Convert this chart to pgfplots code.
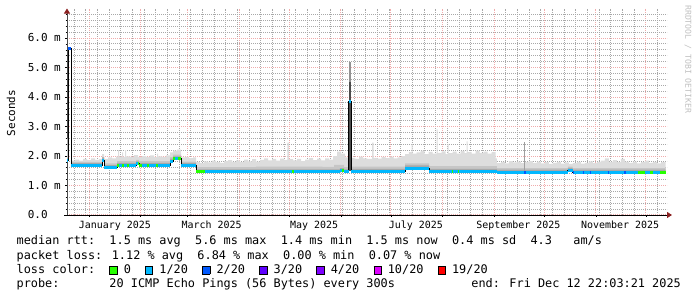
\documentclass[border=0pt]{standalone}
\usepackage{fontspec}
\setmainfont{DejaVu Sans Mono}
\setmonofont{DejaVu Sans Mono}
\usepackage{pgfplots}
\usepackage{pgfplotstable}
\pgfplotsset{compat=1.18}
\usepgfplotslibrary{fillbetween}
\usetikzlibrary{arrows.meta}
\definecolor{gridred}{HTML}{F0ACAC}
\definecolor{gridgray}{HTML}{A8A8A8}
\definecolor{arrowred}{HTML}{8B2020}
\definecolor{smokeL}{HTML}{DDDDDD}
\definecolor{smokeM}{HTML}{C6C6C6}
\definecolor{smokeD}{HTML}{A8A8A8}
\definecolor{loss0}{HTML}{26FF00}
\definecolor{loss1}{HTML}{00B8FF}
\definecolor{loss2}{HTML}{0059FF}
\definecolor{loss3}{HTML}{5E00FF}
\definecolor{loss4}{HTML}{7E00FF}
\definecolor{loss10}{HTML}{DD00FF}
\definecolor{loss19}{HTML}{FF0000}
\definecolor{tag}{HTML}{C0C0C0}

% median rtt (ms), day 0 = 1 Jan 2025
\pgfplotstableread{
x y
-13.2 1.84
-12.4 5.65
-10.6 1.67
7.8 1.86
9.0 1.60
16.8 1.68
28.2 1.73
30.0 1.68
48.6 1.82
50.4 1.90
55.2 1.68
64.2 1.46
150.5 1.50
153.0 1.46
155.8 3.84
157.4 1.47
189.5 1.59
203.9 1.47
244.6 1.45
287.2 1.51
290.0 1.45
345.8 1.45
}\tMed

% dark smoke band (upper edge)
\pgfplotstableread{
x y
-13.2 1.93
-12.4 5.65
-10.6 1.76
7.8 1.95
9.0 1.69
16.8 1.77
28.2 1.82
30.0 1.77
48.6 1.91
50.4 1.99
55.2 1.77
64.2 1.55
150.5 1.59
153.0 1.55
155.8 3.84
157.4 1.56
189.5 1.68
203.9 1.56
244.6 1.54
287.2 1.60
290.0 1.54
345.8 1.54
}\tD

% mid smoke band (upper edge)
\pgfplotstableread{
x y
-13.2 2.20
-12.4 5.65
-10.6 1.80
7.8 1.96
9.0 1.75
16.8 1.83
28.2 1.87
30.0 1.83
48.6 1.96
50.4 2.05
55.2 1.81
64.2 1.62
100.0 1.64
140.0 1.63
147.0 1.70
153.0 1.62
155.8 3.84
157.4 1.64
189.5 1.75
203.9 1.66
244.6 1.59
287.2 1.64
290.0 1.59
345.8 1.59
}\tM

% light smoke (max envelope)
\pgfplotstableread{
x y
-13.2 2.60
-12.8 1.95
-12.4 5.65
-10.6 1.84
-8.4 1.88
-6.0 1.84
-3.6 1.90
-1.2 1.86
1.2 1.92
3.6 1.87
6.0 1.90
7.8 2.06
9.0 1.90
11.4 1.95
13.8 1.92
16.2 1.98
17.4 2.20
18.0 1.98
19.8 2.12
20.4 1.97
21.6 2.20
22.2 1.99
24.6 1.97
27.0 2.03
29.4 1.96
31.8 2.00
34.2 1.97
36.6 2.02
39.0 1.96
40.8 2.08
41.4 1.99
43.8 1.97
46.2 2.02
48.6 2.12
50.4 2.18
52.8 2.22
55.2 1.95
57.6 1.97
60.0 1.93
62.4 1.95
64.2 1.80
66.6 1.76
69.0 1.82
71.4 1.78
73.8 1.84
76.2 1.79
78.6 1.77
81.0 1.83
83.4 1.86
85.8 1.80
88.2 1.85
90.6 1.79
93.0 1.88
95.4 1.82
97.8 1.89
100.2 1.81
102.6 1.87
105.0 1.92
107.4 1.85
109.8 1.90
112.2 1.84
114.6 1.91
117.0 1.87
119.0 2.45
119.8 1.89
122.4 1.85
124.8 1.90
127.2 1.83
129.6 1.88
132.0 1.93
134.4 1.86
136.8 1.91
139.2 1.85
141.6 1.92
144.0 1.88
146.4 2.00
148.8 2.15
151.2 2.08
153.6 1.95
155.8 3.84
157.4 1.94
159.6 1.90
162.0 1.98
164.4 1.92
166.8 1.90
169.8 2.45
170.6 1.94
173.0 1.91
175.4 1.97
177.8 1.93
180.2 1.98
182.6 1.92
185.0 1.95
187.4 2.00
189.5 2.06
191.8 2.13
193.4 2.40
194.0 2.08
196.4 2.12
198.8 2.18
201.2 2.06
203.6 2.14
206.0 2.08
208.4 2.90
209.0 2.11
211.4 2.16
213.8 2.06
215.0 2.40
215.6 2.10
218.0 2.15
220.4 2.08
222.8 2.17
225.2 2.10
226.4 2.50
227.0 2.13
229.4 2.08
231.8 2.18
234.2 2.11
236.6 2.15
239.0 2.08
241.4 2.13
243.8 1.92
244.6 1.76
247.0 1.80
249.4 1.75
251.8 1.83
254.2 1.78
256.6 1.81
259.0 1.76
261.4 1.80
263.8 1.83
266.2 1.77
268.6 1.81
271.0 1.75
273.4 1.79
275.8 1.73
278.2 1.77
280.6 1.80
283.0 1.74
285.4 1.78
287.8 1.73
290.2 1.76
292.6 1.80
295.0 1.74
297.4 1.77
299.8 1.82
302.2 1.76
304.6 1.80
307.0 1.84
309.4 1.92
311.8 1.80
314.2 1.86
316.6 1.79
319.0 1.90
321.4 1.81
323.8 1.77
326.2 1.81
328.6 1.75
331.0 1.79
333.4 1.84
335.8 1.77
338.2 1.80
340.6 1.75
343.0 1.79
345.8 1.79
}\tU

\newcommand{\lb}[1]{\makebox[0.602em][l]{\raisebox{-1bp}{\setlength{\fboxsep}{0pt}\setlength{\fboxrule}{0.9bp}\fcolorbox{black}{#1}{\rule{0pt}{7.4bp}\rule{6.4bp}{0pt}}}}}

\begin{document}
\begin{tikzpicture}
\begin{axis}[
  at={(67bp,82bp)}, anchor=south west,
  scale only axis, width=600bp, height=206.5bp,
  xmin=-13.2, xmax=346.6, ymin=0, ymax=7,
  axis x line=bottom, axis y line=left,
  x axis line style={black, line width=0.9bp, shorten <=-3bp, shorten >=-5bp, -{Triangle[length=5bp,width=6bp,color=arrowred]}},
  y axis line style={black!70, line width=0.9bp, -{Triangle[length=5bp,width=6bp,color=arrowred]}},
  xtick={0,31,59,90,120,151,181,212,243,273,304,334},
  xticklabels={},
  minor xtick={-9,-2,...,345},
  extra x ticks={15.5,73.5,135,196,257.5,318.5},
  extra x tick labels={January 2025,March 2025,May 2025,July 2025,September 2025,November 2025},
  extra x tick style={grid=none, major tick length=0pt},
  ytick={0,1,2,3,4,5,6},
  yticklabels={0.0\phantom{~m},1.0 m,2.0 m,3.0 m,4.0 m,5.0 m,6.0 m},
  minor ytick={0.2,0.4,0.6,0.8,1.2,1.4,1.6,1.8,2.2,2.4,2.6,2.8,3.2,3.4,3.6,3.8,4.2,4.4,4.6,4.8,5.2,5.4,5.6,5.8,6.2,6.4,6.6,6.8},
  grid=both,
  major grid style={draw=gridred, line width=1bp, dash pattern=on 1bp off 1bp},
  minor grid style={draw=gridgray, line width=1bp, dash pattern=on 1bp off 1bp},
  tick align=outside,
  major tick length=2bp, minor tick length=1.5bp,
  tick style={black, line width=0.6bp},
  xticklabel style={font=\fontsize{10}{12}\selectfont, inner sep=0pt, yshift=-6bp},
  yticklabel style={font=\fontsize{11}{13}\selectfont, inner sep=0pt, xshift=-4bp},
  unbounded coords=jump,
  clip=true,
]
\addplot[name path=Med, draw=none, const plot, forget plot] table {\tMed};
\addplot[name path=U, draw=none, const plot, forget plot] table {\tU};
\addplot[name path=M, draw=none, const plot, forget plot] table {\tM};
\addplot[name path=D, draw=none, const plot, forget plot] table {\tD};
\addplot[fill=smokeL, draw=none] fill between[of=U and Med];
\addplot[fill=smokeM, draw=none] fill between[of=M and Med];
\addplot[fill=smokeD, draw=none] fill between[of=D and Med];
% smoke spikes
\addplot[gray!85, line width=1.6bp] coordinates {(156.6,1.5) (156.6,5.2)};
\addplot[black!70, line width=1.6bp] coordinates {(156.6,1.5) (156.6,4.5)};
\addplot[gray!75, line width=1bp] coordinates {(261.4,1.5) (261.4,2.48)};
% median line
\addplot[black, line width=1bp, const plot] table {\tMed};
% loss colored median: 1/20
\addplot[loss1, line width=3bp] coordinates {
(-13.2,1.84) (-12.4,1.84) (-12.4,nan)
(-10.6,1.67) (7.8,1.67) (7.8,nan)
(7.8,1.86) (9.0,1.86) (9.0,nan)
(9.0,1.60) (16.8,1.60) (16.8,nan)
(16.8,1.68) (28.2,1.68) (28.2,nan)
(28.2,1.73) (30.0,1.73) (30.0,nan)
(30.0,1.68) (48.6,1.68) (48.6,nan)
(48.6,1.82) (50.4,1.82) (50.4,nan)
(50.4,1.90) (55.2,1.90) (55.2,nan)
(55.2,1.68) (64.2,1.68) (64.2,nan)
(64.2,1.46) (150.5,1.46) (150.5,nan)
(150.5,1.50) (153.0,1.50) (153.0,nan)
(153.0,1.46) (155.8,1.46) (155.8,nan)
(155.8,3.84) (157.4,3.84) (157.4,nan)
(157.4,1.47) (189.5,1.47) (189.5,nan)
(189.5,1.59) (203.9,1.59) (203.9,nan)
(203.9,1.47) (244.6,1.47) (244.6,nan)
(244.6,1.45) (287.2,1.45) (287.2,nan)
(287.2,1.51) (290.0,1.51) (290.0,nan)
(290.0,1.45) (345.8,1.45)
};
% 0 loss
\addplot[loss0, line width=3bp] coordinates {
(16.8,1.68) (17.8,1.68) (17.8,nan)
(20.0,1.68) (21.0,1.68) (21.0,nan)
(23.0,1.68) (23.8,1.68) (23.8,nan)
(29.2,1.73) (30.0,1.73) (30.0,nan)
(30.0,1.68) (31.8,1.68) (31.8,nan)
(35.0,1.68) (36.0,1.68) (36.0,nan)
(40.4,1.68) (41.4,1.68) (41.4,nan)
(50.4,1.90) (51.8,1.90) (51.8,nan)
(53.6,1.90) (55.2,1.90) (55.2,nan)
(64.2,1.46) (69.6,1.46) (69.6,nan)
(121.8,1.46) (122.8,1.46) (122.8,nan)
(152.0,1.50) (153.0,1.50) (153.0,nan)
(217.4,1.47) (218.2,1.47) (218.2,nan)
(221.0,1.47) (221.8,1.47) (221.8,nan)
(329.2,1.45) (333.4,1.45) (333.4,nan)
(336.4,1.45) (338.2,1.45) (338.2,nan)
(342.4,1.45) (345.8,1.45)
};
% 2/20 loss
\addplot[loss2, line width=3bp] coordinates {
(-12.4,5.65) (-10.6,5.65) (-10.6,nan)
(261.0,1.45) (261.8,1.45) (261.8,nan)
(290.0,1.45) (290.8,1.45) (290.8,nan)
(296.0,1.45) (296.8,1.45) (296.8,nan)
(300.2,1.45) (301.0,1.45) (301.0,nan)
(311.0,1.45) (311.8,1.45) (311.8,nan)
(321.0,1.45) (321.8,1.45)
};
\end{axis}
\node[rotate=90, font=\fontsize{11}{13}\selectfont] at (11bp,184bp) {Seconds};
\node[rotate=-90, anchor=west, inner sep=0pt, text=tag, font=\fontsize{8.2}{10}\selectfont] at (688bp,292bp) {RRDTOOL / TOBI OETIKER};
\begin{scope}[every node/.style={anchor=base west, inner sep=0pt, font=\fontsize{11.9}{14}\selectfont}]
\node at (16.5bp,52bp) {median rtt:~~1.5 ms avg~~5.6 ms max~~1.4 ms min~~1.5 ms now~~0.4 ms sd~~4.3~~~am/s};
\node at (16.5bp,38bp) {packet loss: 1.12 \% avg~~6.84 \% max~~0.00 \% min~~0.07 \% now};
\node at (16.5bp,24bp) {loss color:~~\lb{loss0}~0~~\lb{loss1}~1/20~~\lb{loss2}~2/20~~\lb{loss3}~3/20~~\lb{loss4}~4/20~~\lb{loss10}~10/20~~\lb{loss19}~19/20};
\node at (16.5bp,10bp) {probe:~~~~~~~20 ICMP Echo Pings (56 Bytes) every 300s};
\node[anchor=base east] at (681bp,10bp) {end: Fri Dec 12 22:03:21 2025};
\end{scope}
\pgfresetboundingbox
\path[use as bounding box] (0,0) rectangle (697bp,297bp);
\end{tikzpicture}
\end{document}
